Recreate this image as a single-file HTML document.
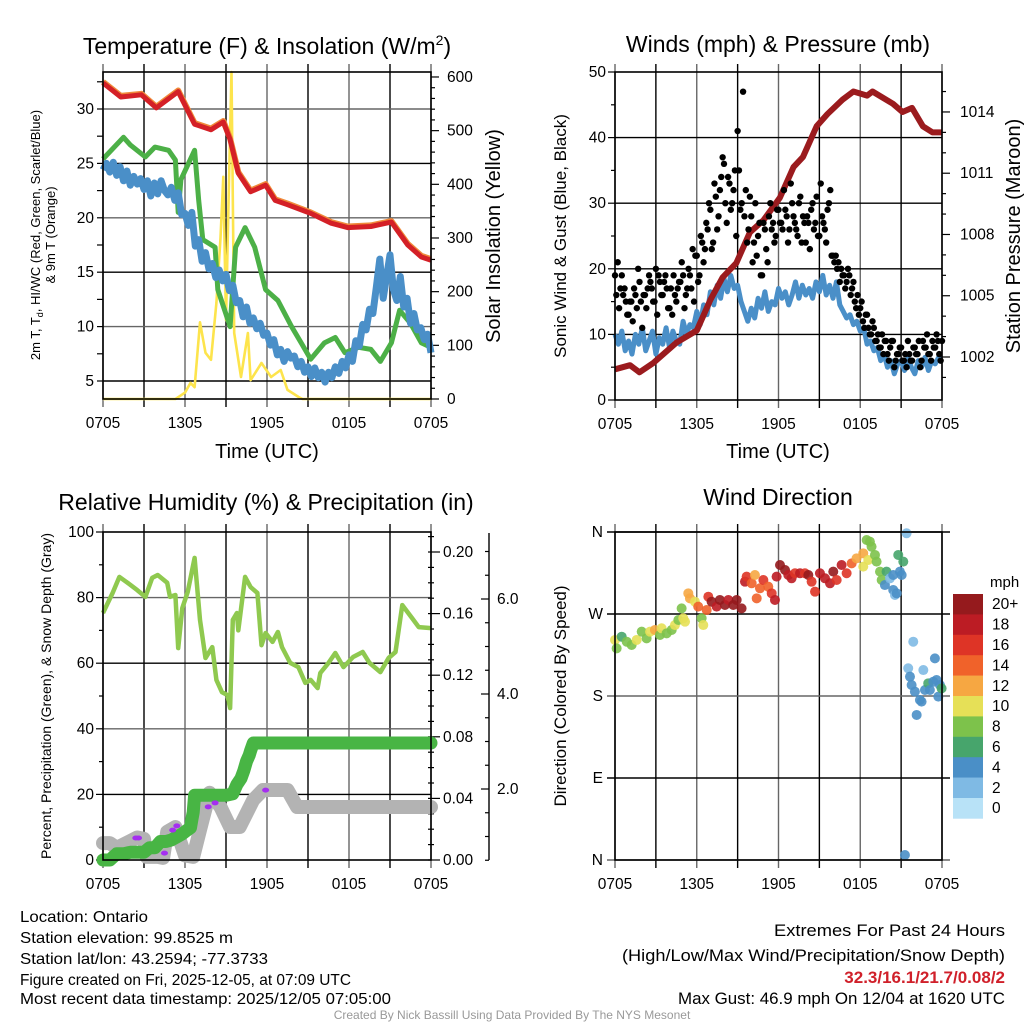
<!DOCTYPE html>
<html><head><meta charset="utf-8">
<style>
html,body{margin:0;padding:0;background:#fff;}
svg{display:block;font-family:"Liberation Sans",Arial,sans-serif;}
</style></head>
<body>
<svg id="fig" width="1024" height="1024" viewBox="0 0 1024 1024">
<rect width="1024" height="1024" fill="#fff"/>
<text x="267" y="54" font-size="23" text-anchor="middle">Temperature (F) &amp; Insolation (W/m<tspan font-size="14" dy="-9">2</tspan><tspan dy="9">)</tspan></text>
<text x="778" y="52" font-size="23" text-anchor="middle">Winds (mph) &amp; Pressure (mb)</text>
<text x="266" y="510" font-size="23" text-anchor="middle">Relative Humidity (%) &amp; Precipitation (in)</text>
<text x="778" y="505" font-size="23" text-anchor="middle">Wind Direction</text>

<text x="267" y="458" font-size="20" text-anchor="middle">Time (UTC)</text>
<text x="778" y="458" font-size="20" text-anchor="middle">Time (UTC)</text>

<text transform="translate(40,235) rotate(-90)" font-size="13" text-anchor="middle">2m T, T<tspan font-size="9" dy="3">d</tspan><tspan dy="-3">, HI/WC (Red, Green, Scarlet/Blue)</tspan></text>
<text transform="translate(55,235) rotate(-90)" font-size="13" text-anchor="middle">&amp; 9m T (Orange)</text>
<text transform="translate(500,236) rotate(-90)" font-size="20" text-anchor="middle">Solar Insolation (Yellow)</text>
<text transform="translate(566,236) rotate(-90)" font-size="17" text-anchor="middle">Sonic Wind &amp; Gust (Blue, Black)</text>
<text transform="translate(1020,236) rotate(-90)" font-size="20" text-anchor="middle">Station Pressure (Maroon)</text>
<text transform="translate(51,696) rotate(-90)" font-size="14" text-anchor="middle">Percent, Precipitation (Green), &amp; Snow Depth (Gray)</text>
<text transform="translate(566,696) rotate(-90)" font-size="17" text-anchor="middle">Direction (Colored By Speed)</text>

<g font-size="16">
<text x="20" y="922" textLength="128" lengthAdjust="spacingAndGlyphs">Location: Ontario</text>
<text x="20" y="943" textLength="213" lengthAdjust="spacingAndGlyphs">Station elevation: 99.8525 m</text>
<text x="20" y="964" textLength="248" lengthAdjust="spacingAndGlyphs">Station lat/lon: 43.2594; -77.3733</text>
<text x="20" y="985" textLength="331" lengthAdjust="spacingAndGlyphs">Figure created on Fri, 2025-12-05, at 07:09 UTC</text>
<text x="20" y="1004" textLength="371" lengthAdjust="spacingAndGlyphs">Most recent data timestamp: 2025/12/05 07:05:00</text>
</g>
<g font-size="17" text-anchor="end">
<text x="1005" y="936" textLength="231" lengthAdjust="spacingAndGlyphs">Extremes For Past 24 Hours</text>
<text x="1005" y="961" textLength="383" lengthAdjust="spacingAndGlyphs">(High/Low/Max Wind/Precipitation/Snow Depth)</text>
<text x="1005" y="983" fill="#d0202a" font-weight="bold">32.3/16.1/21.7/0.08/2</text>
<text x="1005" y="1004" textLength="327" lengthAdjust="spacingAndGlyphs">Max Gust: 46.9 mph On 12/04 at 1620 UTC</text>
</g>
<text x="512" y="1019" font-size="12" fill="#999" text-anchor="middle">Created By Nick Bassill Using Data Provided By The NYS Mesonet</text>
</svg>
<script>
// ---------- data ----------
const xTickLabels = ["0705","1305","1905","0105","0705"];
// Panel 1
const redT = [0,1.3,2.8,3.9,5.5,6.7,7.9,8.8,9.3,9.9,10.8,11.9,12.6,13.5,15.2,16.7,17.9,19.6,21.1,22.3,23.3,24];
const redV = [32.4,31.1,31.3,30.1,31.6,28.6,28.1,28.8,27.2,24.1,22.4,23.0,21.6,21.2,20.4,19.5,19.1,19.2,19.6,17.5,16.4,16.1];
const greenT = [0,1.5,2.0,3.1,3.8,4.8,5.3,5.5,5.7,6.7,7.0,7.3,8.2,8.4,9.3,9.7,10.4,11.1,11.9,12.8,13.8,14.5,15.2,16.2,17.0,17.7,18.7,19.6,20.3,21.1,21.7,22.5,23.3,24];
const greenV = [25.4,27.4,26.7,25.6,26.5,26.2,25.3,20.5,23.5,26.2,21.6,18.0,17.3,13.4,10.0,17.3,19.1,17.3,13.4,12.4,10.0,8.5,7.0,8.5,9.0,7.6,8.1,7.9,6.8,8.5,11.5,10.3,8.5,8.1];
const blueV = [24.4,25.0,24.2,25.1,23.9,24.7,23.4,24.3,23.0,23.8,23.1,23.6,
22.6,23.4,22.0,23.2,22.2,23.4,22.5,22.1,22.8,21.6,22.3,20.3,
20.4,19.3,20.5,17.4,18.0,16.0,16.8,15.3,15.8,14.5,15.2,14.2,
14.8,13.3,13.8,12.2,12.4,10.9,11.8,10.3,10.8,9.8,10.3,9.2,
9.4,8.3,8.8,7.4,7.9,6.8,7.7,7.1,7.3,6.3,6.8,5.8,
6.3,5.4,6.2,5.3,5.8,4.9,5.8,5.3,6.3,5.7,6.8,6.2,
7.4,6.8,8.7,8.2,10.2,9.7,11.6,11.2,13.6,16.2,12.6,14.6,
16.6,13.4,12.4,14.6,11.8,12.6,10.3,11.2,9.7,9.9,8.8,9.3,7.6];
const solarT = [0,5.3,5.6,6.0,6.4,6.7,7.1,7.5,7.9,8.3,8.6,8.8,9.0,9.2,9.4,9.6,10.1,10.6,10.8,11.6,12.3,13.0,13.5,14.3,14.6,24];
const solarV = [0,0,5,12,30,22,143,86,73,179,300,414,147,380,609,123,41,123,35,67,41,54,17,4,0,0];
// Panel 2
const windV = [10,8.5,10.5,7.5,9,7,10,8.5,11,7.5,9,10.5,
7,9.5,8.5,11,8,10.5,9,8.5,12,10,11.5,11,
13.5,11.5,14.5,13,16.5,14.5,17.5,15.5,18.5,16.5,19,17,
17.5,15,13.5,12,14,12.5,15.5,14,16.5,13.5,15,14.5,
17,15.5,16.5,14.5,16,18,15.5,17.5,16,17,15.5,18,
16.5,19,16,17.5,15.5,18,14.5,13.5,12.5,13,11.5,12,
10.5,11,8.5,9,7.5,8,6,7,5,6,4,5.5,
6,4.5,6.5,5,4,6,5,6.5,4.5,6,5.5,6.5,6.5];
const gustA = [19,21,17,16,15,13,15,17,14,18, 11,16,17,18,15,20,19,16,18,17, 14,13,16,17,18,19,16,20,17,15, 22,19,24,23,26,29,24,31,28,34,
36,27,33,30,35,41,29,47,32,26, 28,24,22,27,19,26,21,30,27,25, 29,27,32,28,26,30,27,25,31,28, 24,27,29,26,31,25,28,26,29,32,
22,22,21,20,19,18,19,17,15,16, 14,12,13,11,10,11,9,8,10,9, 7,8,9,6,7,8,6,5,7,6, 8,7,5,9,8,7,6,8,10,7,9];
const gustB = [16,14,19,17,13,15,12,16,20,15, 16,14,19,17,15,13,18,16,19,14, 17,19,15,18,21,14,17,19,23,22, 18,25,21,27,30,23,33,26,32,37,
30,34,29,32,25,35,30,28,24,31, 21,30,25,19,27,23,28,26,24,29, 27,26,29,24,33,28,26,30,24,27, 28,23,30,27,25,33,27,24,30,22,
21,20,18,19,17,20,16,18,14,13, 15,11,13,10,12,9,10,8,7,9, 6,9,5,7,8,6,7,9,6,8, 7,9,6,8,10,7,9,8,9,6];
const presT = [0,1.1,1.8,2.8,4.5,6.0,7.0,7.9,8.9,9.9,10.9,12.1,13.1,13.8,14.8,15.6,16.7,17.5,18.5,18.9,20.4,21.1,21.8,22.6,23.3,24];
const presV = [1001.4,1001.6,1001.25,1001.7,1002.7,1003.3,1004.8,1005.9,1006.6,1008.1,1008.7,1009.8,1011.3,1011.8,1013.3,1013.9,1014.6,1015.0,1014.8,1015.0,1014.4,1014.0,1014.2,1013.3,1013.0,1013.0];
// Panel 3
const rhT = [0,0.7,1.2,1.8,2.5,3.1,3.6,4.0,4.7,4.9,5.3,5.5,5.8,6.2,6.7,7.1,7.5,8.0,8.3,8.7,9.1,9.3,9.5,9.8,9.9,10.4,10.8,11.3,11.6,11.9,12.4,12.8,13.1,13.7,14.3,14.8,15.2,15.7,15.9,16.5,17.0,17.6,18.3,19.0,19.5,20.3,20.9,21.4,21.9,22.6,23.1,24];
const rhV = [75.3,81.4,86.3,84.5,82.3,80.2,86.0,86.9,84.5,80.2,80.8,64.6,76.8,81.7,92.1,73.2,61.6,64.9,54.9,51.2,50.3,46.3,73.2,75.3,70,86.3,83.2,81.4,65.5,69.2,66.5,69.5,64.9,60.1,58.8,54.0,54.9,52.4,57.0,60.1,63.1,58.8,61.9,63.4,60.1,57.3,61.6,63.4,77.7,73.8,71.0,70.7];
const precipT = [0,0.5,1.0,1.5,2.0,2.5,3.0,3.4,3.8,4.2,4.6,5.0,5.4,5.8,6.1,6.4,6.5,6.6,6.7,7.0,7.5,8.0,8.5,9.0,9.5,9.8,10.1,10.3,10.5,10.7,10.8,11.0,11.3];
const precipV = [0,0,0.004,0.004,0.005,0.005,0.005,0.008,0.008,0.012,0.012,0.013,0.015,0.017,0.019,0.021,0.026,0.031,0.042,0.042,0.042,0.042,0.042,0.042,0.043,0.049,0.053,0.058,0.064,0.068,0.071,0.076,0.076];
const snowT = [0,0.5,1.0,2.5,3.0,3.2,4.0,4.4,4.7,5.3,6.0,6.6,7.1,7.8,8.6,9.3,10.0,11.0,11.7,13.5,14.2,16.1,24];
const snowV = [0.86,0.86,0.76,0.98,0.95,0.57,0.57,0.55,1.1,1.2,0.6,0.57,1.14,1.92,1.62,1.2,1.2,1.77,1.98,1.98,1.62,1.62,1.62];
const purpleT = [2.4,2.6,4.5,5.1,5.4,7.7,8.2,11.9];
const purpleV = [6.7,6.7,2.1,9.1,10.4,16.2,17.4,21.3];
// Panel 4
const dirT = [0.0,0.12,0.49,0.86,1.22,1.59,1.96,2.32,2.57,2.93,3.30,3.42,3.79,4.16,4.40,4.65,4.89,5.01,5.14,5.38,5.50,5.87,6.11,6.36,6.48,6.73,6.85,7.09,7.46,7.70,8.07,8.32,8.68,8.93,9.29,9.54,9.66,10.03,10.27,10.40,10.64,10.89,11.25,11.50,11.74,11.86,12.11,12.48,12.72,12.96,13.21,13.58,13.94,14.19,14.43,14.68,15.04,15.41,15.78,16.02,16.27,16.63,17.00,17.37,17.73,18.22,18.22,18.47,18.71,18.83,18.59,19.08,19.20,19.45,19.57,19.81,19.93,20.18,20.42,20.42,20.55,20.67,20.79,20.91,21.04,21.16,21.40,21.28,21.89,21.52,21.65,21.77,22.01,22.14,22.38,22.50,22.63,22.75,22.99,23.11,23.36,23.48,23.60,23.73,23.85,23.97];
const dirV = [241.5,232.3,245.1,239.6,236.0,241.5,250.6,243.3,250.6,252.5,247.0,254.3,248.8,252.5,257.9,263.4,276.2,265.3,261.6,292.7,287.2,283.5,278.1,265.3,257.9,274.4,289.0,283.5,278.1,285.4,279.9,285.4,279.9,285.4,276.2,305.5,311.0,303.7,312.8,287.2,298.2,307.3,300.0,292.7,285.4,311.0,323.8,318.3,312.8,309.2,314.7,314.7,314.7,312.8,305.5,294.5,314.7,309.2,303.7,316.5,307.3,323.8,314.7,325.6,331.1,336.6,322.0,351.2,349.4,343.9,329.3,334.8,327.5,316.5,307.3,301.8,316.5,309.2,312.8,296.4,290.9,292.7,334.8,316.5,312.8,327.5,358.6,5.5,239.6,210.4,201.2,192.1,184.8,159.2,175.6,173.8,208.5,186.6,193.9,186.6,195.7,221.3,197.6,179.3,192.1,188.4];
const dirSpeed = [10,7,6,8,8,9,8,7,10,11,8,10,8,7,10,8,7,10,9,11,12,10,13,8,10,13,15,21,18,20,19,18,21,20,20,18,15,14,12,14,13,15,14,16,17,18,20,19,18,17,16,17,16,20,16,15,18,17,18,20,16,17,15,14,12,12,10,8,7,8,10,8,7,8,7,4,6,2,4,4,2,4,6,4,4,6,1,4,2,2,4,4,4,4,4,4,2,4,6,4,4,4,4,4,4,6];
const cbLabels = ["20+","18","16","14","12","10","8","6","4","2","0"];
const cbColors = ["#951a1d","#bc1c24","#de3426","#f0622a","#f6a742","#e6e057","#7dc24b","#47a56c","#4a8fc7","#7fbae4","#b8e2f7"];

// ---------- helpers ----------
const NS = "http://www.w3.org/2000/svg";
const svg = document.getElementById("fig");
function mk(parent, tag, attrs) {
  const e = document.createElementNS(NS, tag);
  for (const k in attrs) e.setAttribute(k, attrs[k]);
  parent.appendChild(e);
  return e;
}
function txt(parent, x, y, s, size, anchor) {
  const e = mk(parent, "text", {x: x, y: y, "font-size": size, "text-anchor": anchor});
  e.textContent = s;
  return e;
}
function pathD(ts, vs, xf, yf) {
  let d = "";
  for (let i = 0; i < ts.length; i++) d += (i ? "L" : "M") + xf(ts[i]).toFixed(1) + "," + yf(vs[i]).toFixed(1);
  return d;
}
function timeAxis(name, x0, x1, y0, y1) {
  const g = mk(svg, "g", {});
  
  
  for (let i = 0; i <= 8; i++) {
    const x = x0 + (x1 - x0) * i / 8;
    const l = mk(g, "line", {x1: x, x2: x, y1: y0 - 8, y2: y1 + 8, stroke: i % 2 ? "#000" : "#666", "stroke-width": 1.4});
    
    
  }
  for (let i = 0; i < xTickLabels.length; i++) {
    const t = txt(g, x0 + (x1 - x0) * i / 4, y1 + 29, xTickLabels[i], 15.5, "middle");
    
    
  }
  return g;
}
function hLine(g, x0, x1, y, col, w) {
  const l = mk(g, "line", {x1: x0, x2: x1, y1: y, y2: y, stroke: col, "stroke-width": w});
  
  
}
function tick(g, x, y, len) {
  const l = mk(g, "line", {x1: x, x2: x + len, y1: y, y2: y, stroke: "#000", "stroke-width": 1.2});
  
  
}
function frame(g, x0, x1, y0, y1) {
  const r = mk(g, "rect", {x: x0, y: y0, width: x1 - x0, height: y1 - y0, fill: "none", stroke: "#000", "stroke-width": 1.6});
  
  
}

// ---------- Panel 1 ----------
(function () {
  const x0 = 103, x1 = 431, y0 = 72, y1 = 399;
  const xs = t => x0 + (x1 - x0) * t / 24;
  const ly = v => 72 + (33.4 - v) * 10.88;
  const ry = v => 399 - v * 0.5367;
  const g = timeAxis("temperature", x0, x1, y0, y1);
  for (let v = 5; v <= 30; v += 5) hLine(g, x0, x1, ly(v), v % 10 ? "#000" : "#666", 1.4);
  for (let v = 5; v <= 32.5; v += 2.5) tick(g, x0, ly(v), -6);
  for (let v = 5; v <= 30; v += 5) { const t = txt(g, x0 - 9, ly(v) + 5, String(v), 15.5, "end");   }
  for (let v = 0; v <= 600; v += 20) tick(g, x1, ry(v), v % 100 ? 4 : 8);
  for (let v = 0; v <= 600; v += 100) { const t = txt(g, x1 + 16, ry(v) + 5, String(v), 15.5, "start");   }
  const s1 = mk(svg, "path", {d: pathD(solarT, solarV, xs, ry), fill: "none", stroke: "#fde44c", "stroke-width": 2.6, "stroke-linejoin": "round"});
  
  
  const s2 = mk(svg, "path", {d: pathD(greenT, greenV, xs, ly), fill: "none", stroke: "#4cb047", "stroke-width": 5, "stroke-linejoin": "round"});
  
  
  const bt = blueV.map((v, i) => i * 0.25);
  const s3 = mk(svg, "path", {d: pathD(bt, blueV, xs, ly), fill: "none", stroke: "#4a8fc8", "stroke-width": 7, "stroke-linejoin": "round"});
  
  
  const s4 = mk(svg, "path", {d: pathD(redT, redV.map(v => v + 0.1), xs, ly), fill: "none", stroke: "#f08a3a", "stroke-width": 6, "stroke-linejoin": "round"});
  
  
  const s5 = mk(svg, "path", {d: pathD(redT, redV, xs, ly), fill: "none", stroke: "#d42027", "stroke-width": 5, "stroke-linejoin": "round"});
  
  
  frame(svg, x0, x1, y0, y1);
})();

// ---------- Panel 2 ----------
(function () {
  const x0 = 615, x1 = 942, y0 = 72, y1 = 400;
  const xs = t => x0 + (x1 - x0) * t / 24;
  const ly = v => 400 - v * 6.56;
  const ry = p => 357 - (p - 1002) * 20.42;
  const g = timeAxis("winds", x0, x1, y0, y1);
  for (let v = 10; v <= 40; v += 10) hLine(g, x0, x1, ly(v), "#000", 1.4);
  for (let v = 0; v <= 50; v += 5) tick(g, x0, ly(v), v % 10 ? -4 : -7);
  for (let v = 0; v <= 50; v += 10) { const t = txt(g, x0 - 9, ly(v) + 5, String(v), 15.5, "end");   }
  for (let p = 1001; p <= 1015; p += 1) tick(g, x1, ry(p), (p - 1002) % 3 ? 4 : 8);
  for (let p = 1002; p <= 1014; p += 3) { const t = txt(g, x1 + 18, ry(p) + 5, String(p), 15.5, "start");   }
  const wt = windV.map((v, i) => i * 0.25);
  const w = mk(svg, "path", {d: pathD(wt, windV, xs, ly), fill: "none", stroke: "#4a8fc8", "stroke-width": 5, "stroke-linejoin": "round"});
  
  
  const pg = mk(svg, "path", {d: pathD(presT, presV, xs, ry), fill: "none", stroke: "#9b1b1e", "stroke-width": 6, "stroke-linejoin": "round"});
  
  
  const gg = mk(svg, "g", {fill: "#000"});
  
  
  gustA.forEach((v, i) => { const c = mk(gg, "circle", {cx: xs(i * 0.2), cy: ly(v), r: 3.2});   });
  gustB.forEach((v, i) => { const c = mk(gg, "circle", {cx: xs(i * 0.2 + 0.1), cy: ly(v), r: 3.2});   });
  frame(svg, x0, x1, y0, y1);
})();

// ---------- Panel 3 ----------
(function () {
  const x0 = 103, x1 = 431, y0 = 532, y1 = 860;
  const xs = t => x0 + (x1 - x0) * t / 24;
  const ly = v => 860 - v * 3.28;
  const py = v => 860 - v * 1540;
  const sy = v => 884 - 47.5 * v;
  const g = timeAxis("humidity", x0, x1, y0, y1);
  for (let v = 20; v <= 80; v += 20) hLine(g, x0, x1, ly(v), v % 40 ? "#000" : "#666", 1.4);
  for (let v = 0; v <= 100; v += 10) tick(g, x0, ly(v), v % 20 ? -4 : -7);
  for (let v = 0; v <= 100; v += 20) { const t = txt(g, x0 - 9, ly(v) + 5, String(v), 15.5, "end");   }
  for (let i = 0; i <= 21; i++) { const v = i * 0.01; tick(g, x1 - 3, py(v), i % 4 ? 6 : 12); }
  for (let i = 0; i <= 5; i++) { const v = i * 0.04; const t = txt(g, x1 + 12, py(v) + 5, v.toFixed(2), 15.5, "start");   }
  const ax = mk(g, "line", {x1: 489, x2: 489, y1: 533, y2: 860, stroke: "#000", "stroke-width": 1.4});
  
  
  for (let v = 0.5; v <= 7; v += 0.5) tick(g, 489, sy(v), Math.abs(v % 2) < 0.01 ? -8 : -4);
  for (let v = 2; v <= 6; v += 2) { const t = txt(g, 497, sy(v) + 5, v.toFixed(1), 15.5, "start");   }
  const sn = mk(svg, "path", {d: pathD(snowT, snowV, xs, sy), fill: "none", stroke: "#b3b3b3", "stroke-width": 14, "stroke-linejoin": "round", "stroke-linecap": "round"});
  
  
  const pr = mk(svg, "path", {d: pathD(precipT.concat([24]), precipV.concat([0.076]), xs, py), fill: "none", stroke: "#48b544", "stroke-width": 13, "stroke-linejoin": "round", "stroke-linecap": "round"});
  
  
  const pp = mk(svg, "g", {fill: "#a52ef0"});
  
  
  purpleT.forEach((t, i) => { const c = mk(pp, "ellipse", {cx: xs(t), cy: ly(purpleV[i]), rx: 3.5, ry: 2.5});   });
  const rh = mk(svg, "path", {d: pathD(rhT, rhV, xs, ly), fill: "none", stroke: "#8fc94f", "stroke-width": 4.5, "stroke-linejoin": "round"});
  
  
  frame(svg, x0, x1, y0, y1);
})();

// ---------- Panel 4 ----------
(function () {
  const x0 = 615, x1 = 942, y0 = 532, y1 = 860;
  const xs = t => x0 + (x1 - x0) * t / 24;
  const ly = d => 860 - d * 0.9111;
  const dirLabels = ["N","E","S","W","N"];
  const g = timeAxis("direction", x0, x1, y0, y1);
  for (let d = 90; d <= 270; d += 90) hLine(g, x0 - 8, x1 + 8, ly(d), d === 180 ? "#666" : "#000", 1.4);
  hLine(g, x0 - 8, x1 + 8, ly(0), "#666", 1.4);
  hLine(g, x0 - 8, x1 + 8, ly(360), "#000", 1.4);
  dirLabels.forEach((s, i) => { const t = txt(g, x0 - 12, ly(i * 90) + 5, s, 15.5, "end");   });
  function col(s) { const idx = Math.min(10, Math.round(s / 2)); return cbColors[10 - idx]; }
  const dg = mk(svg, "g", {"fill-opacity": 0.9});
  
  
  dirT.forEach((t, i) => { const c = mk(dg, "circle", {cx: xs(t), cy: ly(dirV[i]), r: 5, fill: col(dirSpeed[i])});   });
  frame(svg, x0, x1, y0, y1);
  const cb = mk(svg, "g", {});
  
  
  const h = 20.4;
  cbColors.forEach((c, i) => { const r = mk(cb, "rect", {x: 953, y: 594 + i * h, width: 30, height: h + 0.3, fill: c});   });
  cbLabels.forEach((s, i) => { const t = txt(cb, 992, 594 + i * h + h / 2 + 5, s, 15.5, "start");   });
  const u = txt(cb, 990, 587, "mph", 15, "start");
  
  
})();
</script>
</body></html>
